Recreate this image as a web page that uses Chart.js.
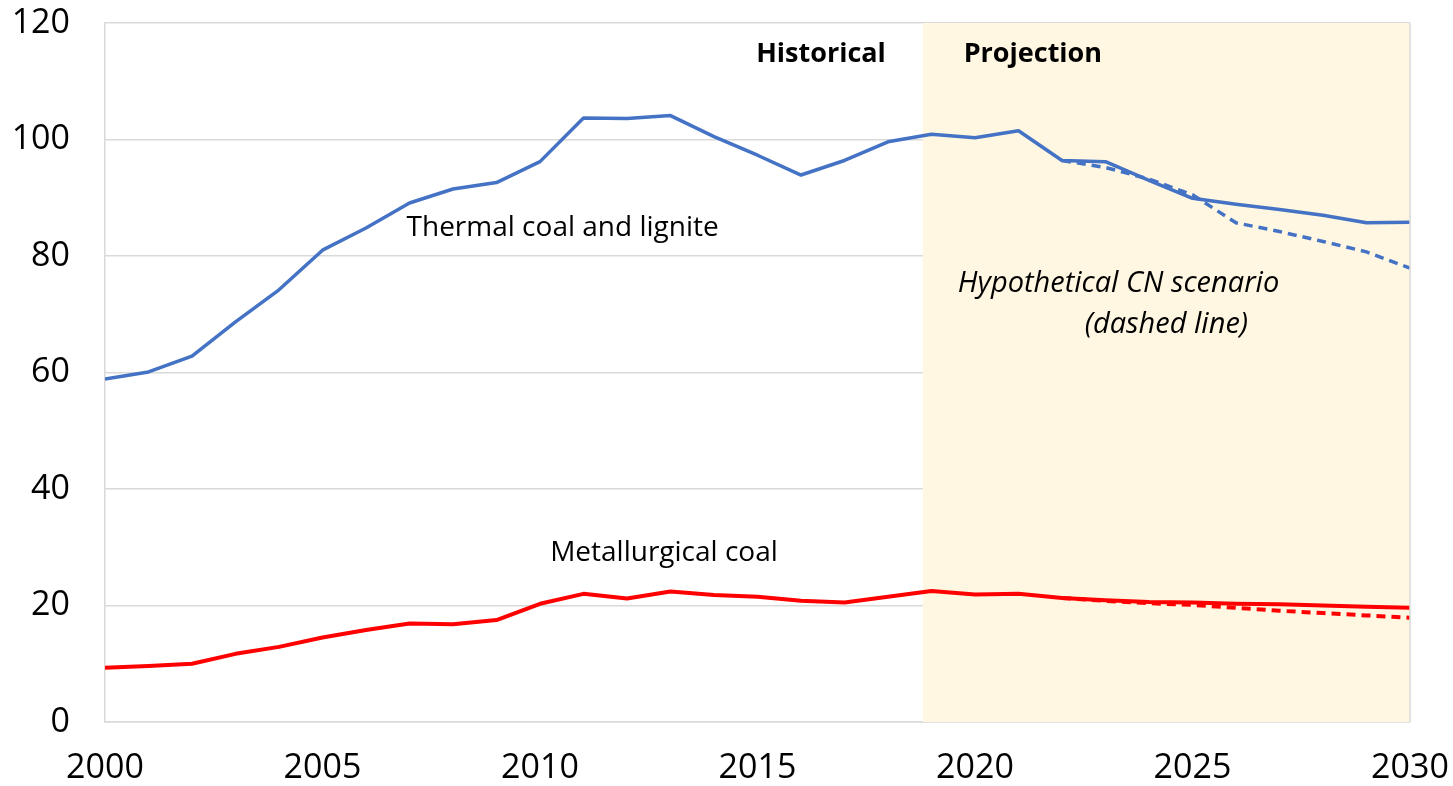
<!DOCTYPE html>
<html>
<head>
<meta charset="utf-8">
<script src="https://cdn.jsdelivr.net/npm/chart.js@4"></script>
<style>
  html, body { margin: 0; padding: 0; background: #fff; }
  #wrap { width: 1453px; height: 786px; }
</style>
</head>
<body>
<div id="wrap"><canvas id="coalChart"></canvas></div>
<script>
  // 資料
  const years = [2000, 2001, 2002, 2003, 2004, 2005, 2006, 2007, 2008, 2009, 2010,
    2011, 2012, 2013, 2014, 2015, 2016, 2017, 2018, 2019, 2020,
    2021, 2022, 2023, 2024, 2025, 2026, 2027, 2028, 2029, 2030];
  const thermal = [58.9, 60.1, 62.8, 68.7, 74.2, 81.0, 84.8, 89.1, 91.5, 92.6, 96.2,
    103.7, 103.6, 104.1, 100.5, 97.3, 93.9, 96.4, 99.6, 100.9, 100.3,
    101.5, 96.4, 96.2, 93.0, 89.9, 88.9, 88.0, 87.0, 85.7, 85.8];
  const metallurgical = [9.3, 9.6, 10.0, 11.7, 12.9, 14.5, 15.8, 16.9, 16.8, 17.5, 20.3,
    22.0, 21.2, 22.4, 21.8, 21.5, 20.8, 20.5, 21.5, 22.5, 21.9,
    22.0, 21.3, 20.9, 20.6, 20.5, 20.3, 20.2, 20.0, 19.8, 19.6];
  const cnYears = [2022, 2023, 2024, 2025, 2026, 2027, 2028, 2029, 2030];
  const thermalCN = [96.4, 95.2, 93.2, 90.5, 85.7, 84.2, 82.5, 80.7, 77.9];
  const metallurgicalCN = [21.3, 20.8, 20.4, 20.1, 19.6, 19.1, 18.7, 18.3, 17.9];
  const xTicks = [2000, 2005, 2010, 2015, 2020, 2025, 2030];
  const yTicks = [0, 20, 40, 60, 80, 100, 120];
  const projectionStart = 2018.8;

  const toPoints = (xs, ys) => xs.map((x, i) => ({ x: x, y: ys[i] }));

  // 預測區塊底色
  const projectionShade = {
    id: 'projectionShade',
    beforeDatasetsDraw(chart) {
      const { ctx, chartArea, scales } = chart;
      const x0 = scales.x.getPixelForValue(projectionStart);
      ctx.save();
      ctx.fillStyle = '#FFF7E1';
      ctx.fillRect(x0, chartArea.top, chartArea.right - x0, chartArea.bottom - chartArea.top);
      ctx.restore();
    }
  };

  // 圖內文字
  const labels = [
    { text: 'Historical', x: 2016.46, y: 114.7, font: 'bold 27px "Open Sans", sans-serif' },
    { text: 'Projection', x: 2021.33, y: 114.7, font: 'bold 27px "Open Sans", sans-serif' },
    { text: 'Thermal coal and lignite', x: 2010.52, y: 84.8, font: '28px "Open Sans", sans-serif' },
    { text: 'Metallurgical coal', x: 2012.85, y: 29.0, font: '28px "Open Sans", sans-serif' },
    { text: 'Hypothetical CN scenario', x: 2023.30, y: 75.2, font: 'italic 29px "Open Sans", sans-serif' },
    { text: '(dashed line)', x: 2024.40, y: 68.2, font: 'italic 29px "Open Sans", sans-serif' }
  ];
  const textLabels = {
    id: 'textLabels',
    afterDatasetsDraw(chart) {
      const { ctx, scales } = chart;
      ctx.save();
      ctx.fillStyle = '#000';
      ctx.textBaseline = 'middle';
      ctx.textAlign = 'center';
      labels.forEach(l => {
        ctx.font = l.font;
        ctx.fillText(l.text, scales.x.getPixelForValue(l.x), scales.y.getPixelForValue(l.y));
      });
      ctx.restore();
    }
  };

  // 右框線
  const rightBorder = {
    id: 'rightBorder',
    afterDatasetsDraw(chart) {
      const { ctx, chartArea } = chart;
      ctx.save();
      ctx.strokeStyle = '#D9D9D9';
      ctx.lineWidth = 1.5;
      ctx.beginPath();
      ctx.moveTo(chartArea.right, chartArea.top);
      ctx.lineTo(chartArea.right, chartArea.bottom);
      ctx.stroke();
      ctx.restore();
    }
  };

  const lineStyle = { pointRadius: 0, fill: false, tension: 0, borderJoinStyle: 'round' };

  new Chart(document.getElementById('coalChart'), {
    type: 'line',
    data: {
      datasets: [
        { label: 'Thermal coal and lignite', data: toPoints(years, thermal), borderColor: '#4472C4', borderWidth: 3.5, ...lineStyle },
        { label: 'Thermal coal (CN)', data: toPoints(cnYears, thermalCN), borderColor: '#4472C4', borderWidth: 3.5, borderDash: [9, 6], ...lineStyle },
        { label: 'Metallurgical coal', data: toPoints(years, metallurgical), borderColor: '#FF0000', borderWidth: 4, ...lineStyle },
        { label: 'Metallurgical coal (CN)', data: toPoints(cnYears, metallurgicalCN), borderColor: '#FF0000', borderWidth: 4, borderDash: [9, 6], ...lineStyle }
      ]
    },
    options: {
      responsive: true,
      maintainAspectRatio: false,
      animation: false,
      layout: { padding: { top: 23, right: 43, left: 0, bottom: 0 } },
      plugins: { legend: { display: false }, tooltip: { enabled: false } },
      scales: {
        x: {
          type: 'linear',
          min: 2000,
          max: 2030,
          afterBuildTicks(scale) { scale.ticks = xTicks.map(v => ({ value: v })); },
          afterFit(scale) { scale.height = 64; scale.paddingLeft = 0; scale.paddingRight = 0; },
          ticks: {
            color: '#000',
            padding: 26,
            maxRotation: 0,
            font: { size: 34, family: '"Open Sans", sans-serif' },
            callback: v => String(v)
          },
          grid: { display: false, drawTicks: false },
          border: { display: true, color: '#D9D9D9', width: 1.5 }
        },
        y: {
          min: 0,
          max: 120,
          afterBuildTicks(scale) { scale.ticks = yTicks.map(v => ({ value: v })); },
          afterFit(scale) { scale.width = 105; scale.paddingTop = 0; scale.paddingBottom = 0; },
          ticks: {
            color: '#000',
            padding: 35,
            font: { size: 34, family: '"Open Sans", sans-serif' }
          },
          grid: { color: '#D9D9D9', lineWidth: 1.5, drawTicks: false },
          border: { display: true, color: '#D9D9D9', width: 1.5 }
        }
      }
    },
    plugins: [projectionShade, textLabels, rightBorder]
  });
</script>
</body>
</html>
